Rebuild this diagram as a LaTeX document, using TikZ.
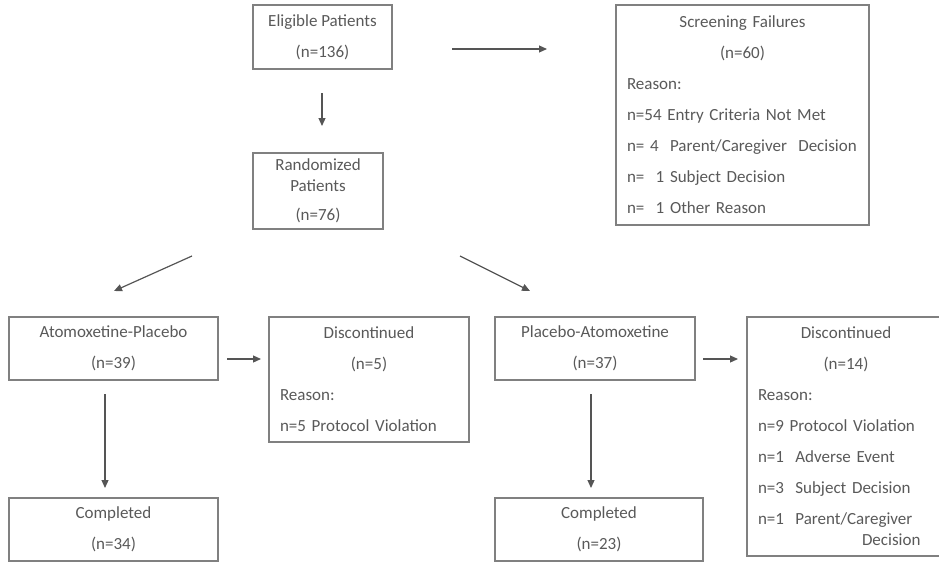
\documentclass[tikz,border=0pt]{standalone}
\usepackage{fontspec}
\setmainfont{Carlito}
\usetikzlibrary{arrows.meta}

\definecolor{txtgray}{RGB}{89,89,89}
\definecolor{boxgray}{RGB}{128,128,128}
\definecolor{arrgray}{RGB}{85,85,85}

\tikzset{
    box/.style={draw=boxgray, line width=1.2pt, text=txtgray, inner xsep=11pt, inner ysep=0pt,
        font=\fontsize{17}{21}\selectfont},
    arr/.style={draw=arrgray, line width=1.2pt, -{Triangle[length=8pt,width=7pt]}}
}
\newcommand{\headline}[2]{\makebox[#1][c]{#2}}

\begin{document}
\begin{tikzpicture}[x=1pt,y=-1pt]
    \useasboundingbox (0,0) rectangle (939,562);

    % Top row
    \node[box, align=center, minimum width=139pt, minimum height=64pt] (elig) at (322.5,37)
        {Eligible Patients\\[10pt](n=136)};
    \node[box, align=left, text width=231pt, minimum height=220pt] (fail) at (742.5,115)
        {\headline{231pt}{Screening Failures}\\[10pt]\headline{231pt}{(n=60)}\\[10pt]%
         Reason:\\[10pt]n=54 Entry Criteria Not Met\\[10pt]n=~4~~Parent/Caregiver~~Decision\\[10pt]%
         n=~~1 Subject Decision\\[10pt]n=~~1 Other Reason};
    \node[box, align=center, minimum width=130pt, minimum height=76pt] (rand) at (318,191)
        {Randomized\\Patients\\[8pt](n=76)};

    % Arms
    \node[box, align=center, minimum width=209pt, minimum height=63pt] (atx) at (113.5,348.5)
        {Atomoxetine-Placebo\\[10pt](n=39)};
    \node[box, align=left, text width=178pt, minimum height=125pt] (disca) at (369,379.5)
        {\headline{178pt}{Discontinued}\\[10pt]\headline{178pt}{(n=5)}\\[10pt]%
         Reason:\\[10pt]n=5 Protocol Violation};
    \node[box, align=center, minimum width=200pt, minimum height=63pt] (plc) at (595,348.5)
        {Placebo-Atomoxetine\\[10pt](n=37)};
    \node[box, align=left, text width=176pt, minimum height=239pt] (discb) at (846,436.5)
        {\headline{176pt}{Discontinued}\\[10pt]\headline{176pt}{(n=14)}\\[10pt]%
         Reason:\\[10pt]n=9 Protocol Violation\\[10pt]n=1~~Adverse Event\\[10pt]%
         n=3~~Subject Decision\\[10pt]n=1~~Parent/Caregiver\\\hspace*{104pt}Decision};

    % Bottom row
    \node[box, align=center, minimum width=209pt, minimum height=63pt] (compa) at (113.5,529.5)
        {Completed\\[10pt](n=34)};
    \node[box, align=center, minimum width=208pt, minimum height=63pt] (compb) at (599,529.5)
        {Completed\\[10pt](n=23)};

    % Arrow ends
    \coordinate (e1) at (452,49);  \coordinate (f1) at (547,49);
    \coordinate (e2) at (322,93);  \coordinate (r2) at (322,126);
    \coordinate (r3) at (192,256); \coordinate (a3) at (114,291);
    \coordinate (r4) at (460,256); \coordinate (p4) at (530,291);
    \coordinate (a5) at (227,359); \coordinate (d5) at (261,359);
    \coordinate (a6) at (105,394); \coordinate (c6) at (105,488);
    \coordinate (p7) at (703,359); \coordinate (d7) at (738,359);
    \coordinate (p8) at (591,394); \coordinate (c8) at (591,488);

    % Arrows
    \foreach \s/\t in {e1/f1, e2/r2, r3/a3, r4/p4, a5/d5, a6/c6, p7/d7, p8/c8} {
        \draw[arr] (\s) -- (\t);
    }
\end{tikzpicture}
\end{document}
